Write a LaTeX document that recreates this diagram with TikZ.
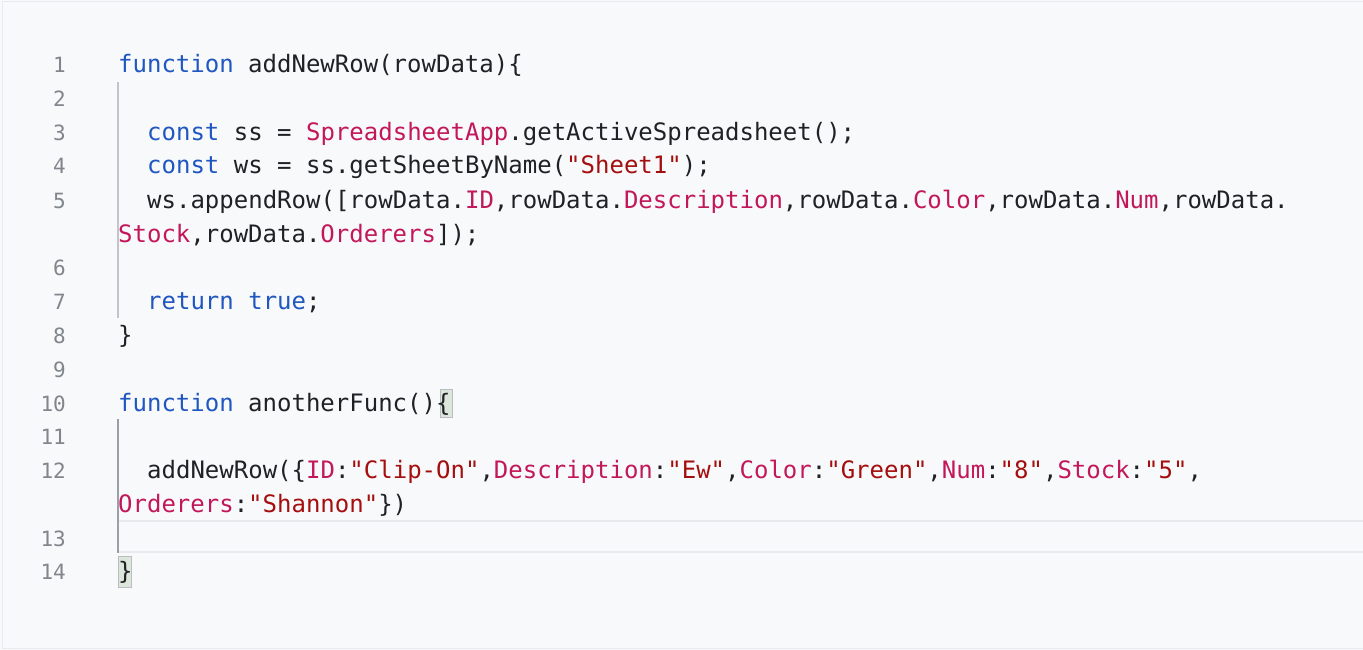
\documentclass[tikz,border=0pt]{standalone}
\usepackage{fontspec}
\setmonofont{DejaVu Sans Mono}
\definecolor{kw}{HTML}{1F56BF}
\definecolor{pk}{HTML}{C2185B}
\definecolor{st}{HTML}{A50E0E}
\definecolor{tx}{HTML}{202124}
\definecolor{ln}{HTML}{80868B}
\definecolor{bg}{HTML}{F8F9FA}
\definecolor{gd}{HTML}{9AA0A6}
\definecolor{cl}{HTML}{E8EAED}
\definecolor{br}{HTML}{DDE6DA}
\newcommand{\kw}[1]{\textcolor{kw}{#1}}
\newcommand{\pk}[1]{\textcolor{pk}{#1}}
\newcommand{\st}[1]{\textcolor{st}{#1}}
\tikzset{code/.style={anchor=base west,inner sep=0pt,font=\fontsize{24}{28}\selectfont\ttfamily,text=tx},
num/.style={anchor=base east,inner sep=0pt,font=\fontsize{21}{26}\selectfont\ttfamily,text=ln},
bracebox/.style={fill=br,draw=gd!70,line width=1pt}}
\begin{document}
\begin{tikzpicture}[x=1pt,y=-1pt]
\useasboundingbox (0,0) rectangle (1363,650);
\fill[bg] (0,0) rectangle (1363,650);
\draw[cl,line width=1pt] (2,2) rectangle (1363,648);
% current line
\draw[cl,line width=2pt] (118,521) -- (1363,521) (118,552) -- (1363,552);
% bracket boxes
\draw[bracebox] (440,389) rectangle (452,417);
\draw[bracebox] (118,556) rectangle (131,587);
% guides
\draw[gd!60,line width=1.2pt] (118,82) -- (118,318);
\draw[gd,line width=1.2pt] (118,419) -- (118,553);
% line numbers
\foreach \n/\y in {1/65,2/99,3/133,4/166,5/200,6/267,7/301,8/335,9/369,10/403,11/436,12/470,13/538,14/571}
  \node[num] (n\n) at (66,\y+8) {\n};
\node[code] (l1) at (118,73) {\kw{function} addNewRow(rowData)\{};
\node[code] (l3) at (147,141) {\kw{const} ss = \pk{SpreadsheetApp}.getActiveSpreadsheet();};
\node[code] (l4) at (147,174) {\kw{const} ws = ss.getSheetByName(\st{"Sheet1"});};
\node[code] (l5) at (147,208) {ws.appendRow([rowData.\pk{ID},rowData.\pk{Description},rowData.\pk{Color},rowData.\pk{Num},rowData.};
\node[code] (l5b) at (118,242) {\pk{Stock},rowData.\pk{Orderers}]);};
\node[code] (l7) at (147,309) {\kw{return} \kw{true};};
\node[code] (l8) at (118,343) {\}};
\node[code] (l10) at (118,411) {\kw{function} anotherFunc()\{};
\node[code] (l12) at (147,478) {addNewRow(\{\pk{ID}:\st{"Clip-On"},\pk{Description}:\st{"Ew"},\pk{Color}:\st{"Green"},\pk{Num}:\st{"8"},\pk{Stock}:\st{"5"},};
\node[code] (l12b) at (118,512) {\pk{Orderers}:\st{"Shannon"}\})};
\node[code] (l14) at (118,579) {\}};
\end{tikzpicture}
\end{document}
